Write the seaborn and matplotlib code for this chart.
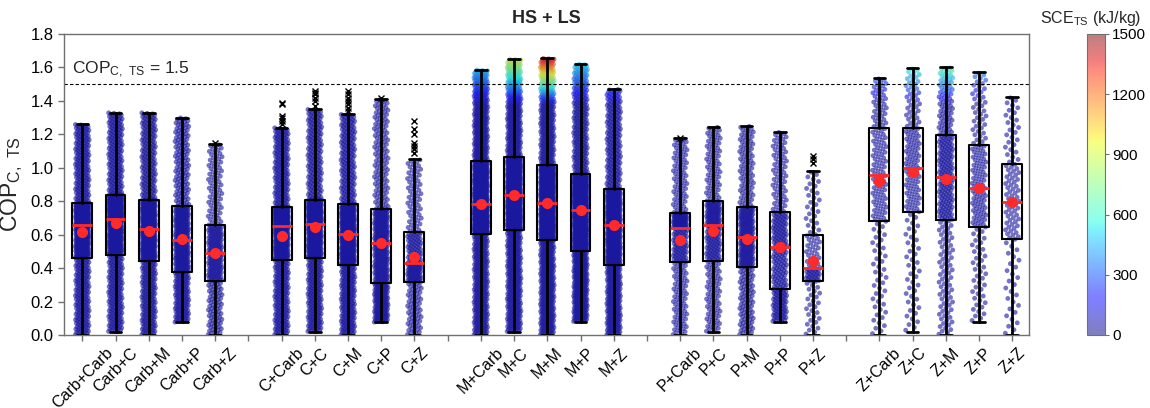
import numpy as np
import pandas as pd
import matplotlib
matplotlib.use("Agg")
import matplotlib.pyplot as plt
import seaborn as sns
from matplotlib.colors import ListedColormap, Normalize
from matplotlib.cm import ScalarMappable

# ---------------- data ----------------
categories = ['Carb+Carb', 'Carb+C', 'Carb+M', 'Carb+P', 'Carb+Z',
              'C+Carb', 'C+C', 'C+M', 'C+P', 'C+Z',
              'M+Carb', 'M+C', 'M+M', 'M+P', 'M+Z',
              'P+Carb', 'P+C', 'P+M', 'P+P', 'P+Z',
              'Z+Carb', 'Z+C', 'Z+M', 'Z+P', 'Z+Z']

whislo = [0.0, 0.02, 0.0, 0.076, 0.0,
          0.0, 0.02, 0.0, 0.076, 0.0,
          0.0, 0.02, 0.0, 0.08, 0.0,
          0.0, 0.02, 0.0, 0.08, 0.0,
          0.0, 0.02, 0.0, 0.08, 0.0]
q1 = [0.46, 0.48, 0.445, 0.375, 0.325,
      0.45, 0.46, 0.42, 0.31, 0.315,
      0.605, 0.625, 0.565, 0.505, 0.42,
      0.435, 0.445, 0.405, 0.277, 0.32,
      0.68, 0.737, 0.687, 0.645, 0.572]
median = [0.66, 0.695, 0.635, 0.57, 0.49,
          0.65, 0.665, 0.605, 0.55, 0.43,
          0.785, 0.835, 0.79, 0.745, 0.655,
          0.64, 0.655, 0.585, 0.525, 0.40,
          0.955, 1.0, 0.947, 0.88, 0.795]
q3 = [0.79, 0.84, 0.81, 0.77, 0.655,
      0.765, 0.81, 0.785, 0.755, 0.615,
      1.04, 1.065, 1.015, 0.963, 0.873,
      0.73, 0.80, 0.765, 0.735, 0.60,
      1.24, 1.24, 1.195, 1.136, 1.02]
whishi = [1.26, 1.33, 1.33, 1.30, 1.14,
          1.24, 1.35, 1.32, 1.41, 1.05,
          1.585, 1.65, 1.655, 1.62, 1.47,
          1.175, 1.245, 1.25, 1.215, 0.98,
          1.535, 1.595, 1.60, 1.57, 1.425]
means = [0.615, 0.67, 0.62, 0.575, 0.49,
         0.59, 0.645, 0.595, 0.55, 0.465,
         0.785, 0.84, 0.79, 0.745, 0.66,
         0.565, 0.62, 0.575, 0.525, 0.44,
         0.92, 0.977, 0.93, 0.88, 0.795]
outliers = [[], [], [], [], [1.15],
            [1.26, 1.28, 1.30, 1.31, 1.38, 1.39],
            [1.37, 1.40, 1.42, 1.44, 1.45, 1.46],
            [1.34, 1.36, 1.38, 1.40, 1.42, 1.44, 1.46],
            [1.42],
            [1.09, 1.11, 1.13, 1.15, 1.20, 1.23, 1.28],
            [], [], [], [], [],
            [1.18], [], [], [], [1.03, 1.05, 1.07],
            [], [], [], [], []]
# number of simulated cases per combination (visual density of the cloud)
n_cases = [700, 700, 700, 500, 300,
           700, 700, 700, 500, 250,
           1100, 1100, 1100, 1000, 800,
           300, 300, 350, 280, 110,
           170, 170, 300, 170, 110]
# SCE reached by the best cases of each combination (kJ/kg)
sce_peak = [100, 100, 100, 100, 100,
            120, 120, 120, 120, 120,
            400, 850, 1350, 450, 200,
            120, 120, 120, 120, 120,
            250, 550, 620, 300, 150]

colorbar_ticks = [0, 300, 600, 900, 1200, 1500]

# ---------------- layout helpers ----------------
positions = [i + i // 5 for i in range(len(categories))]
n_slots = positions[-1] + 1
tick_labels = [''] * n_slots
for p, c in zip(positions, categories):
    tick_labels[p] = c

# cloud of cases for each combination, following its quartiles
rows = []
golden = 0.6180339887
for k, cat in enumerate(categories):
    n = n_cases[k]
    u = (np.arange(n) + 0.5) / n
    vals = np.interp(u, [0, 0.25, 0.5, 0.75, 1.0],
                     [whislo[k], q1[k], median[k], q3[k], whishi[k]])
    jit = ((np.arange(n) * golden) % 1.0 - 0.5) * 0.42
    t0 = 1.38
    frac = np.clip((vals - t0) / max(whishi[k] - t0, 1e-6), 0, 1)
    sce = 50 + sce_peak[k] * frac
    for v, j, s in zip(vals, jit, sce):
        rows.append((positions[k] + j, v, s))
df = pd.DataFrame(rows, columns=['x', 'cop', 'sce']).sort_values('sce')

# ---------------- style ----------------
sns.set_style("ticks")
plt.rcParams['font.family'] = ['Liberation Sans', 'DejaVu Sans']
plt.rcParams['mathtext.default'] = 'regular'

# slightly muted jet for the scatter (as printed in the reference)
base = plt.get_cmap('jet')(np.linspace(0, 1, 256))
muted = base.copy()
muted[:, :3] = 0.75 * base[:, :3] + 0.25 * np.array([0.40, 0.38, 0.55])
cmap_points = ListedColormap(muted)

fig = plt.figure(figsize=(11.5, 4.08), dpi=100)
ax = fig.add_axes([0.0557, 0.179, 0.839, 0.7377])

sns.scatterplot(data=df, x='x', y='cop', hue='sce', palette=cmap_points,
                hue_norm=(0, 1500), s=12, alpha=0.6, linewidth=0,
                legend=False, ax=ax, zorder=1, rasterized=True)

stats = []
for k in range(len(categories)):
    stats.append(dict(whislo=whislo[k], q1=q1[k], med=median[k], q3=q3[k],
                      whishi=whishi[k], mean=means[k], fliers=outliers[k]))
ax.bxp(stats, positions=positions, widths=0.6, showmeans=True,
       capwidths=0.35, patch_artist=False,
       boxprops=dict(color='black', linewidth=1.5),
       whiskerprops=dict(color='black', linewidth=2),
       capprops=dict(color='black', linewidth=2),
       medianprops=dict(color='#ff2a2a', linewidth=2),
       meanprops=dict(marker='o', markerfacecolor='#ff2a2a',
                      markeredgecolor='#ff2a2a', markersize=7),
       flierprops=dict(marker='x', markeredgecolor='black', markersize=4,
                       markeredgewidth=1),
       manage_ticks=False, zorder=3)

ax.axhline(1.5, color='black', linestyle=(0, (3, 2)), linewidth=0.8, zorder=2)
ax.text(0.008, 1.525, r'COP$_{C,\ TS}$ = 1.5', transform=ax.get_yaxis_transform(),
        fontsize=12.5, ha='left', va='bottom')

ax.set_xlim(-0.55, n_slots - 0.5)
ax.set_ylim(0, 1.8)
ax.set_yticks(np.arange(0, 1.81, 0.2))
ax.set_yticklabels([f'{v:.1f}' for v in np.arange(0, 1.81, 0.2)], fontsize=12)
ax.set_xticks(range(n_slots))
ax.set_xticklabels(tick_labels, rotation=45, fontsize=11.5)
ax.set_xlabel('')
ax.set_ylabel(r'COP$_{C,\ TS}$', fontsize=16.5, labelpad=4)
ax.set_title('HS + LS', fontsize=13, fontweight='bold', pad=8)

for sp in ax.spines.values():
    sp.set_visible(True)
    sp.set_color('#707070')
    sp.set_linewidth(1.0)
ax.tick_params(colors='#707070', labelcolor='black', length=4, width=1)

# colorbar with faded jet
jet = plt.get_cmap('jet')(np.linspace(0, 1, 256))
jet[:, 3] = 0.5
cmap_faded = ListedColormap(jet)
cax = fig.add_axes([0.945, 0.179, 0.016, 0.7377])
cb = fig.colorbar(ScalarMappable(norm=Normalize(0, 1500), cmap=cmap_faded),
                  cax=cax, ticks=colorbar_ticks)
cb.outline.set_edgecolor('#707070')
cb.ax.tick_params(labelsize=11, colors='#707070', labelcolor='black',
                  length=3, pad=2)
cax.set_title(r'SCE$_{TS}$ (kJ/kg)', fontsize=11.5, pad=8, x=0.2)

fig.savefig('out.png', dpi=100)
